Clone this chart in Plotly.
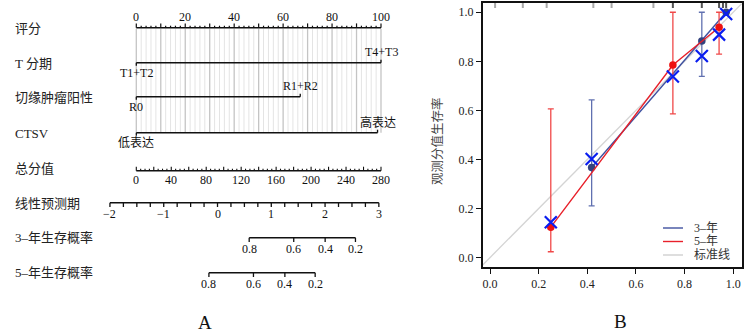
import numpy as np
import plotly.graph_objects as go

# ---------------- Nomogram (panel A) data ----------------
ROW_LABELS = ["评分", "T 分期", "切缘肿瘤阳性", "CTSV", "总分值", "线性预测期", "3–年生存概率", "5–年生存概率"]
POINT_TICKS = [0, 20, 40, 60, 80, 100]
T_LEVELS = ["T1+T2", "T4+T3"]
T_POINTS = [0, 100]
MARGIN_LEVELS = ["R0", "R1+R2"]
MARGIN_POINTS = [0, 67]
CTSV_LEVELS = ["低表达", "高表达"]
CTSV_POINTS = [0, 98.6]
TOTAL_TICKS = [0, 40, 80, 120, 160, 200, 240, 280]
TOTAL_MAX = 280
LP_TICKS = [-2, -1, 0, 1, 2, 3]
LP_TICK_LABELS = ["−2", "−1", "0", "1", "2", "3"]
SURV_TICKS = [0.8, 0.6, 0.4, 0.2]
SURV_TICK_LABELS = ["0.8", "0.6", "0.4", "0.2"]
LP_AT_ZERO_TOTAL = -1.51
LP_PER_TOTAL_POINT = 0.01625
LOG_CUMHAZ_3Y = -2.089
LOG_CUMHAZ_5Y = -1.340

# ---------------- Calibration (panel B) data ----------------
CAL_X3 = [0.418, 0.871, 0.971]
CAL_Y3 = [0.367, 0.883, 1.0]
CAL_LO3 = [0.211, 0.739, 1.0]
CAL_HI3 = [0.643, 1.0, 1.0]
CAL_BC3 = [0.402, 0.822, 0.993]
CAL_X5 = [0.25, 0.752, 0.942]
CAL_Y5 = [0.124, 0.785, 0.939]
CAL_LO5 = [0.024, 0.586, 0.829]
CAL_HI5 = [0.606, 1.0, 1.0]
CAL_BC5 = [0.144, 0.738, 0.909]
RUG_LIGHT = [0.021, 0.135, 0.233, 0.425, 0.50, 0.672]
RUG_DARK = [0.752, 0.871, 0.942, 0.958, 0.971]
CAL_TICKS = [0.0, 0.2, 0.4, 0.6, 0.8, 1.0]
LEGEND_NAMES = ["3–年", "5–年", "标准线"]

W, H = 749, 334
FONT = "Liberation Serif, Times New Roman, Noto Sans CJK SC, serif"
BLACK = "#111111"

# conversions into the points scale
def total_to_x(tp):
    return np.asarray(tp, float) * 100.0 / TOTAL_MAX

def lp_to_x(lp):
    return total_to_x((np.asarray(lp, float) - LP_AT_ZERO_TOTAL) / LP_PER_TOTAL_POINT)

def surv_to_x(p, c):
    p = np.asarray(p, float)
    return lp_to_x(np.log(-np.log(p)) - c)

# pixel-based layout for rows (y axis in pixels, reversed)
PX0, PXS = 136.3, 2.447  # pixel of 0 points, pixels per point
LEFT_W = 420
XR = [-PX0 / PXS, (LEFT_W - PX0) / PXS]

Y_PTS, Y_T, Y_M, Y_C, Y_TOT, Y_LP, Y_S3, Y_S5 = 27.7, 62.7, 96.7, 132.7, 170.7, 202.7, 237.7, 272.7
LABEL_Y = [28, 63, 97, 133, 168, 203, 237, 272]

fig = go.Figure()

def segs(pairs):
    xs, ys = [], []
    for (x0, y0, x1, y1) in pairs:
        xs += [x0, x1, None]
        ys += [y0, y1, None]
    return xs, ys

def add_segs(pairs, color=BLACK, width=1.3, xa="x", ya="y"):
    xs, ys = segs(pairs)
    fig.add_trace(go.Scatter(x=xs, y=ys, mode="lines", line=dict(color=color, width=width),
                             hoverinfo="skip", showlegend=False, xaxis=xa, yaxis=ya))

annots = []
def txt(x, y, s, size=12, xref="x", yref="y", xanchor="center", yanchor="middle", color=BLACK, angle=0):
    annots.append(dict(x=x, y=y, text=s, xref=xref, yref=yref, showarrow=False,
                       xanchor=xanchor, yanchor=yanchor, textangle=angle,
                       font=dict(family=FONT, size=size, color=color)))

# grid lines
minor_grid = [v for v in np.arange(0, 101, 2) if v % 10 != 0]
major_grid = list(np.arange(0, 101, 10))
add_segs([(v, Y_PTS + 1, v, Y_C) for v in minor_grid], color="#E4E4E4", width=1)
add_segs([(v, Y_PTS + 1, v, Y_C) for v in major_grid], color="#C4C4C4", width=1.3)

# points axis
add_segs([(0, Y_PTS, 100, Y_PTS)], width=1.5)
add_segs([(v, Y_PTS, v, Y_PTS - 2) for v in minor_grid] + [(v, Y_PTS, v, Y_PTS - 4.3) for v in major_grid], width=1.2)
for v in POINT_TICKS:
    txt(v, 17, str(v))

# categorical rows
def cat_row(y, pts, levels):
    add_segs([(pts[0], y, pts[1], y)], width=1.5)
    add_segs([(pts[0], y, pts[0], y + 3), (pts[1], y, pts[1], y - 3)], width=1.3)
    txt(pts[0], y + 10.5, levels[0])
    txt(pts[1], y - 10.5, levels[1])

cat_row(Y_T, T_POINTS, T_LEVELS)
cat_row(Y_M, MARGIN_POINTS, MARGIN_LEVELS)
cat_row(Y_C, CTSV_POINTS, CTSV_LEVELS)

# total points axis
tot_minor = np.arange(0, TOTAL_MAX + 1, 5)
tx = total_to_x(tot_minor)
add_segs([(float(tx[0]), Y_TOT, float(tx[-1]), Y_TOT)], width=1.5)
add_segs([(float(x), Y_TOT, float(x), Y_TOT - (4 if v % 20 == 0 else 2)) for x, v in zip(tx, tot_minor)], width=1.1)
for v, x in zip(TOTAL_TICKS, total_to_x(TOTAL_TICKS)):
    txt(float(x), 179.5, str(v))

# linear predictor axis
lp_minor = np.arange(LP_TICKS[0], LP_TICKS[-1] + 0.001, 0.25)
lx = lp_to_x(lp_minor)
add_segs([(float(lx[0]), Y_LP, float(lx[-1]), Y_LP)], width=1.5)
add_segs([(float(x), Y_LP, float(x), Y_LP + 4.3) for x in lx], width=1.3)
for s, x in zip(LP_TICK_LABELS, lp_to_x(LP_TICKS)):
    txt(float(x), 213.5, s)

# survival axes
for y, c in [(Y_S3, LOG_CUMHAZ_3Y), (Y_S5, LOG_CUMHAZ_5Y)]:
    sx = surv_to_x(SURV_TICKS, c)
    add_segs([(float(sx[0]), y, float(sx[-1]), y)], width=1.5)
    add_segs([(float(x), y, float(x), y + 4.3) for x in sx], width=1.3)
    for s, x in zip(SURV_TICK_LABELS, sx):
        txt(float(x), y + 11.5, s)

for lab, ly in zip(ROW_LABELS, LABEL_Y):
    txt(13 / W, ly, lab, size=13, xref="paper", xanchor="left", color="#222222")

txt(205 / W, 1 - 322 / H, "A", size=19, xref="paper", yref="paper")

# ---------------- calibration panel ----------------
XR2 = [-0.03, 1.035]
YR2 = [-0.037, 1.039]
fig.add_trace(go.Scatter(x=XR2, y=XR2, mode="lines", line=dict(color="#D4D4D4", width=1.3),
                         hoverinfo="skip", showlegend=False, xaxis="x2", yaxis="y2"))
add_segs([(v, YR2[1], v, YR2[1] - 0.022) for v in RUG_LIGHT], color="#A8A8A8", width=2, xa="x2", ya="y2")
add_segs([(v, YR2[1], v, YR2[1] - 0.022) for v in RUG_DARK], color="#555555", width=2, xa="x2", ya="y2")

BLUE_LINE = "#3F51A0"
BLUE_ERR = "#6070B0"
RED_LINE = "#E8202A"
RED_ERR = "#F04848"

def cal_series(xv, yv, lo, hi, lc, ec, dc):
    yv = np.array(yv); lo = np.array(lo); hi = np.array(hi)
    fig.add_trace(go.Scatter(x=xv, y=yv, mode="lines+markers",
                             line=dict(color=lc, width=1.4),
                             marker=dict(color=dc, size=7.5),
                             error_y=dict(type="data", symmetric=False, array=hi - yv, arrayminus=yv - lo,
                                          color=ec, thickness=1.3, width=3),
                             hoverinfo="skip", showlegend=False, xaxis="x2", yaxis="y2"))

cal_series(CAL_X3, CAL_Y3, CAL_LO3, CAL_HI3, BLUE_LINE, BLUE_ERR, "#34427E")
cal_series(CAL_X5, CAL_Y5, CAL_LO5, CAL_HI5, RED_LINE, RED_ERR, "#EE1111")
fig.add_trace(go.Scatter(x=CAL_X5 + CAL_X3, y=CAL_BC5 + CAL_BC3, mode="markers",
                         marker=dict(symbol="x-thin", size=12, line=dict(color="#0A1EF0", width=2.2)),
                         hoverinfo="skip", showlegend=False, xaxis="x2", yaxis="y2"))

# manual legend
LEG_Y = [228, 241.5, 255]
LEG_COL = [BLUE_LINE, RED_LINE, "#D0D0D0"]
shapes = []
for name, ly, col in zip(LEGEND_NAMES, LEG_Y, LEG_COL):
    shapes.append(dict(type="line", xref="paper", yref="paper", x0=663 / W, x1=683 / W,
                       y0=1 - ly / H, y1=1 - ly / H, line=dict(color=col, width=1.4)))
    txt(692 / W, 1 - ly / H, name, size=12, xref="paper", yref="paper", xanchor="left", color="#333333")

txt(438 / W, 1 - 141 / H, "观测分值生存率", size=12.5, xref="paper", yref="paper", angle=-90, color="#444444")
txt(620 / W, 1 - 321 / H, "B", size=19, xref="paper", yref="paper")

axis_common = dict(showgrid=False, zeroline=False)
fig.update_layout(
    width=W, height=H, margin=dict(l=0, r=0, t=0, b=0),
    paper_bgcolor="white", plot_bgcolor="rgba(0,0,0,0)",
    showlegend=False,
    xaxis=dict(domain=[0, LEFT_W / W], range=XR, visible=False, **axis_common),
    yaxis=dict(domain=[0, 1], range=[H, 0], visible=False, **axis_common),
    xaxis2=dict(domain=[482.7 / W, 741.7 / W], range=XR2, anchor="y2",
                showline=True, mirror=True, linecolor=BLACK, linewidth=1.6,
                ticks="outside", ticklen=5, tickwidth=1.2, tickcolor=BLACK,
                tickvals=CAL_TICKS, tickformat=".1f",
                tickfont=dict(family=FONT, size=12, color="#222222"), **axis_common),
    yaxis2=dict(domain=[1 - 266.7 / H, 1 - 2.7 / H], range=YR2, anchor="x2",
                showline=True, mirror=True, linecolor=BLACK, linewidth=1.6,
                ticks="outside", ticklen=5, tickwidth=1.2, tickcolor=BLACK,
                tickvals=CAL_TICKS, tickformat=".1f",
                tickfont=dict(family=FONT, size=12, color="#222222"), **axis_common),
    annotations=annots, shapes=shapes,
)

fig.write_html("out.html", config={"displayModeBar": False},
               post_script="document.body.style.margin='0px';document.body.style.overflow='hidden';")
